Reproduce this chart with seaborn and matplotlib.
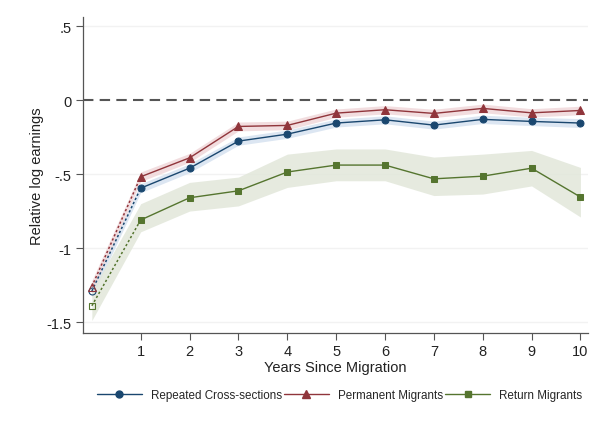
import numpy as np
import pandas as pd
import matplotlib
matplotlib.use("Agg")
import matplotlib.pyplot as plt
import seaborn as sns
from matplotlib.lines import Line2D

years = [0, 1, 2, 3, 4, 5, 6, 7, 8, 9, 10]
series_names = ["Repeated Cross-sections", "Permanent Migrants", "Return Migrants"]

rcs = [-1.29, -0.595, -0.46, -0.277, -0.23, -0.155, -0.133, -0.169, -0.13, -0.144, -0.155]
rcs_lo = [-1.33, -0.625, -0.49, -0.305, -0.258, -0.182, -0.16, -0.196, -0.158, -0.172, -0.185]
rcs_hi = [-1.25, -0.565, -0.43, -0.249, -0.202, -0.128, -0.106, -0.142, -0.102, -0.116, -0.125]

perm = [-1.26, -0.518, -0.39, -0.178, -0.171, -0.088, -0.065, -0.09, -0.056, -0.086, -0.07]
perm_lo = [-1.30, -0.55, -0.42, -0.208, -0.2, -0.116, -0.093, -0.118, -0.085, -0.114, -0.099]
perm_hi = [-1.22, -0.486, -0.36, -0.148, -0.142, -0.06, -0.037, -0.062, -0.027, -0.058, -0.041]

ret = [-1.39, -0.81, -0.66, -0.613, -0.486, -0.439, -0.439, -0.532, -0.514, -0.46, -0.655]
ret_lo = [-1.49, -0.89, -0.75, -0.715, -0.59, -0.545, -0.545, -0.645, -0.635, -0.58, -0.79]
ret_hi = [-1.29, -0.70, -0.556, -0.52, -0.365, -0.33, -0.33, -0.385, -0.365, -0.34, -0.455]

y_ticks = [0.5, 0, -0.5, -1, -1.5]
y_ticklabels = [".5", "0", "-.5", "-1", "-1.5"]
x_ticks = [1, 2, 3, 4, 5, 6, 7, 8, 9, 10]

colors = ["#1a476f", "#90353b", "#55752f"]
band_colors = ["#d6e2f0", "#f0d8da", "#e2e7da"]
markers = ["o", "^", "s"]
msizes = [5, 6, 5]

sns.set_style("white")
plt.rcParams["font.family"] = ["Liberation Sans", "DejaVu Sans"]

fig = plt.figure(figsize=(5.96, 4.31), dpi=100)
ax = fig.add_axes([0.139, 0.225, 0.848, 0.733])

data = [(rcs, rcs_lo, rcs_hi), (perm, perm_lo, perm_hi), (ret, ret_lo, ret_hi)]

for i, (v, lo, hi) in enumerate(data):
    ax.fill_between(years, lo, hi, color=band_colors[i], alpha=0.85, lw=0, zorder=1)

ax.axhline(0, color="#555555", ls=(0, (5, 3)), lw=1.5, zorder=2)

for i, (v, lo, hi) in enumerate(data):
    df = pd.DataFrame({"year": years, "val": v})
    main = df[df.year >= 1]
    first = df[df.year <= 1]
    sns.lineplot(data=first, x="year", y="val", ax=ax, color=colors[i], lw=1.1,
                 linestyle=(0, (1.5, 1.5)), zorder=3, legend=False)
    sns.lineplot(data=main, x="year", y="val", ax=ax, color=colors[i], lw=1.0,
                 marker=markers[i], markersize=msizes[i], markeredgecolor=colors[i],
                 zorder=4, legend=False)
    ax.plot(first.year.iloc[:1], first.val.iloc[:1], marker=markers[i], ls="none",
            markersize=msizes[i], markerfacecolor="none", markeredgecolor=colors[i],
            markeredgewidth=0.8, zorder=4)

ax.set_xlim(-0.184, 10.16)
ax.set_ylim(-1.574, 0.561)
ax.set_yticks(y_ticks)
ax.set_yticklabels(y_ticklabels)
ax.set_xticks(x_ticks)
ax.set_xticklabels([str(t) for t in x_ticks])
for t in y_ticks:
    if t != 0:
        ax.axhline(t, color="#f2f2f2", lw=1.0, zorder=0)
ax.tick_params(axis="both", which="major", direction="out", length=5, width=0.8,
               color="#555555", labelsize=10.5, labelcolor="#222222", left=True, bottom=True,
               pad=3)
for s in ["top", "right"]:
    ax.spines[s].set_visible(False)
for s in ["left", "bottom"]:
    ax.spines[s].set_color("#555555")
    ax.spines[s].set_linewidth(0.9)

ax.set_xlabel("Years Since Migration", fontsize=10.5, color="#222222", labelpad=1)
ax.set_ylabel("Relative log earnings", fontsize=10.5, color="#222222", labelpad=2)

handles = [Line2D([0], [0], color=colors[i], marker=markers[i], lw=1.0,
                  markersize=msizes[i]) for i in range(3)]
fig.legend(handles, series_names, loc="center", bbox_to_anchor=(0.57, 0.082), ncol=3,
           frameon=False, fontsize=8.4, handlelength=3.8, columnspacing=0.2, handletextpad=0.8)

fig.savefig("out.png", dpi=100, facecolor="white")
